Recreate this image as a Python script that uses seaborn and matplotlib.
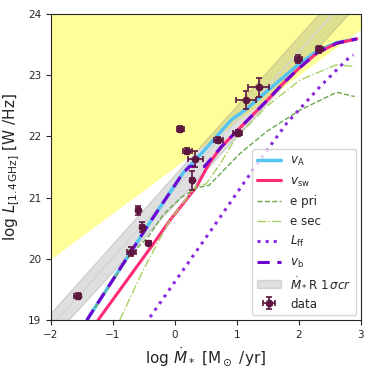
import numpy as np
import pandas as pd
import matplotlib
matplotlib.use('Agg')
import matplotlib.pyplot as plt
import seaborn as sns

sns.set_style('ticks')
plt.rcParams.update({
    'font.family': ['DejaVu Sans'],
    'mathtext.fontset': 'dejavusans',
    'xtick.labelsize': 7.5,
    'ytick.labelsize': 7.5,
    'axes.labelsize': 11,
})

# model curves
vb_x = [-1.42, -0.4, 0.13, 0.24, 0.48, 0.75, 1.08, 1.5, 1.75, 2.0, 2.29, 2.61, 2.93]
vb_y = [19.0, 20.6, 21.4, 21.51, 21.51, 21.83, 22.17, 22.6, 22.87, 23.11, 23.36, 23.52, 23.59]

va_x = [-1.42, -0.4, 0.13, 0.5, 0.91, 1.16, 1.5, 2.0, 2.29, 2.61, 2.93]
va_y = [19.0, 20.6, 21.4, 21.8, 22.27, 22.45, 22.75, 23.18, 23.39, 23.53, 23.59]

vsw_x = [-1.24, -0.38, -0.08, 0.35, 0.56, 0.75, 1.08, 1.5, 1.75, 2.0, 2.29, 2.61, 2.93]
vsw_y = [19.0, 20.2, 20.63, 21.18, 21.57, 21.83, 22.17, 22.6, 22.87, 23.11, 23.36, 23.52, 23.59]

epri_x = [-1.42, -0.73, -0.43, -0.19, 0.1, 0.35, 0.55, 1.05, 1.48, 2.02, 2.61, 2.9]
epri_y = [19.0, 20.05, 20.36, 20.72, 21.0, 21.16, 21.2, 21.72, 22.08, 22.43, 22.72, 22.65]

esec_x = [-0.89, -0.51, -0.1, 0.35, 0.5, 0.73, 0.96, 1.48, 2.02, 2.61, 2.9]
esec_y = [19.0, 19.82, 20.6, 21.2, 21.22, 21.55, 21.94, 22.49, 22.92, 23.17, 23.14]

lff_x = [-0.4, 0.62, 1.05, 1.37, 1.8, 2.34, 2.77, 2.88]
lff_y = [19.05, 20.52, 21.15, 21.61, 22.21, 22.81, 23.25, 23.33]

# SFR-radio relation band
band_x = [-2.0, 3.0]
band_lo = [18.69, 24.22]
band_mid = [18.9, 24.5]
band_hi = [19.12, 24.77]

# excluded region
excl_x = [-2.0, 3.0]
excl_y = [20.0, 23.75]

# data
data_x = [-1.57, -0.70, -0.59, -0.53, -0.43, 0.09, 0.20, 0.33, 0.28, 0.70, 1.01, 1.15, 1.35, 1.99, 2.33]
data_y = [19.40, 20.12, 20.79, 20.52, 20.26, 22.12, 21.76, 21.63, 21.28, 21.94, 22.05, 22.59, 22.80, 23.26, 23.42]
data_xerr = [0.05, 0.07, 0.03, 0.04, 0.04, 0.05, 0.07, 0.12, 0.03, 0.07, 0.08, 0.16, 0.17, 0.06, 0.06]
data_yerr = [0.05, 0.07, 0.07, 0.08, 0.04, 0.05, 0.05, 0.13, 0.16, 0.05, 0.05, 0.15, 0.15, 0.07, 0.06]

fig = plt.figure(figsize=(3.74, 3.74), dpi=100)
ax = fig.add_axes([0.136, 0.144, 0.829, 0.819])

ax.fill_between(excl_x, excl_y, [24.5, 24.5], color='yellow', alpha=0.4, lw=0, zorder=0)
ax.fill_between(band_x, band_lo, band_hi, facecolor='gray', edgecolor='gray', alpha=0.25, lw=1.0, zorder=1,
                label=r'$\dot{M}_*$R 1$\,\sigma cr$')
ax.plot(band_x, band_mid, color='lightgray', lw=1.0, zorder=1)

sns.lineplot(x=va_x, y=va_y, color='#56c4f0', lw=2.5, label=r'$v_{\rm A}$', ax=ax, sort=False)
sns.lineplot(x=vsw_x, y=vsw_y, color='#ff2a78', lw=2.2, label=r'$v_{\rm sw}$', ax=ax, sort=False)
sns.lineplot(x=epri_x, y=epri_y, color='#6aa84f', lw=1.0, ls='--', label='e pri', ax=ax, sort=False)
sns.lineplot(x=esec_x, y=esec_y, color='#a8d060', lw=1.0, ls='-.', label='e sec', ax=ax, sort=False)
sns.lineplot(x=lff_x, y=lff_y, color='#8a2be2', lw=2.2, ls=':', label=r'$L_{\rm ff}$', ax=ax, sort=False)
sns.lineplot(x=vb_x, y=vb_y, color='#7000d0', lw=2.2, ls=(0, (4, 2.5)), label=r'$v_{\rm b}$', ax=ax, sort=False)

ax.errorbar(data_x, data_y, xerr=data_xerr, yerr=data_yerr, fmt='o', color='#5c1640', ms=4.5,
            capsize=2, elinewidth=1.2, capthick=1.2, label='data', zorder=5)

ax.set_xlim(-2, 3)
ax.set_ylim(19, 24)
ax.set_xticks([-2, -1, 0, 1, 2, 3])
ax.set_yticks([19, 20, 21, 22, 23, 24])
ax.set_xlabel(r'$\log\,\dot{M}_*$ [M$_\odot$ /yr]')
ax.set_ylabel(r'$\log\,L_{[1.4\,\rm GHz]}$ [W /Hz]')

handles, labels = ax.get_legend_handles_labels()
order = [r'$v_{\rm A}$', r'$v_{\rm sw}$', 'e pri', 'e sec', r'$L_{\rm ff}$', r'$v_{\rm b}$',
         r'$\dot{M}_*$R 1$\,\sigma cr$', 'data']
hmap = dict(zip(labels, handles))
ax.legend([hmap[k] for k in order], order, loc='lower right', fontsize=8.6, frameon=True,
          handlelength=2.0, borderaxespad=0.4, labelspacing=0.55)

plt.savefig('out.png', dpi=100)
plt.close()
